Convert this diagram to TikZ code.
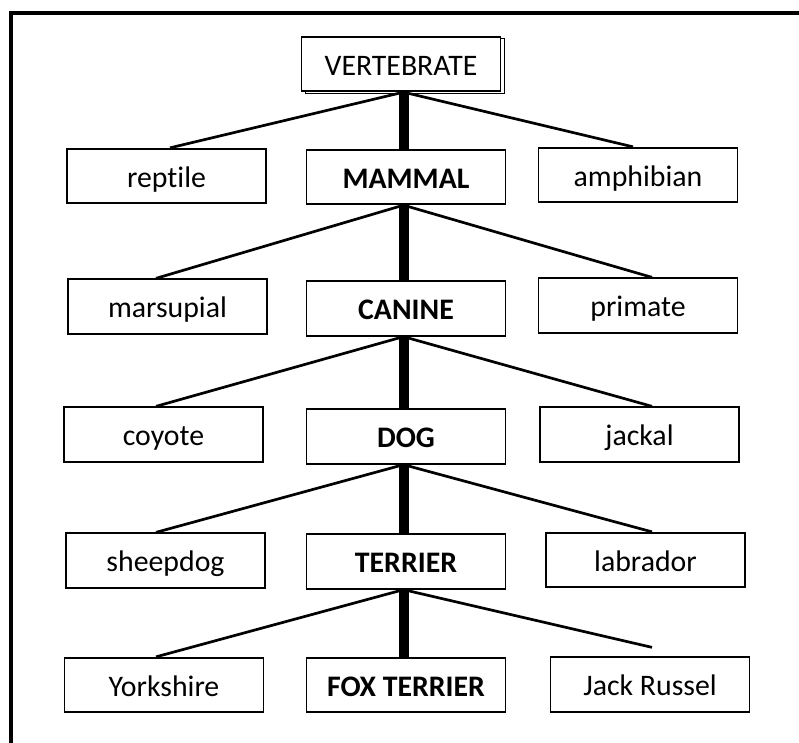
\documentclass[tikz,border=0pt]{standalone}
\usepackage{fontspec}
\setmainfont{Carlito}[Ligatures=NoCommon]
\usetikzlibrary{shadows}
\begin{document}
\begin{tikzpicture}[x=1pt,y=-1pt,
  box/.style={draw, line width=1.8pt, minimum width=199pt, minimum height=54.5pt,
    inner sep=0pt, text height=25pt, text depth=3pt,
    font=\fontsize{29.8}{35}\selectfont},
  key/.style={box, font=\fontsize{29.8}{35}\selectfont\bfseries},
  link/.style={line width=2.7pt},
  spineline/.style={line width=10pt},
  frame/.style={line width=4pt, line join=miter}]
\useasboundingbox (0,0) rectangle (799,742);
% outer frame (only top and left edges are visible)
\draw[frame] (10.5,760) -- (10.5,13) -- (820,13);
% column guides
\coordinate (sp) at (403.5,0);
\coordinate (l1) at (170,0);
\coordinate (l) at (156,0);
\coordinate (r1) at (633,0);
\coordinate (r) at (652,0);
% nodes
\node[box, fill=white, copy shadow={shadow xshift=4pt, shadow yshift=-2pt, line width=1.3pt}] (v) at (401,64) {VERTEBRATE};
\node[box] (rep) at (166.5,176) {reptile};
\node[key] (mam) at (406,177) {MAMMAL};
\node[box] (amp) at (638,175) {amphibian};
\node[box] (mar) at (167.5,306.5) {marsupial};
\node[key] (can) at (406,308.5) {CANINE};
\node[box] (pri) at (638,305.5) {primate};
\node[box] (coy) at (163.5,434.5) {coyote};
\node[key] (dog) at (406,436.5) {DOG};
\node[box] (jac) at (639.5,434.5) {jackal};
\node[box] (she) at (165.5,560.5) {sheepdog};
\node[key] (ter) at (406,561.5) {TERRIER};
\node[box] (lab) at (645.5,560) {labrador};
\node[box] (yor) at (164,685) {Yorkshire};
\node[key] (fox) at (406,685) {FOX TERRIER};
\node[box] (jr) at (650,684.5) {Jack Russel};
% thick spine
\draw[spineline] (v.south -| sp) -- (mam.north -| sp);
\draw[spineline] (mam.south -| sp) -- (can.north -| sp);
\draw[spineline] (can.south -| sp) -- (dog.north -| sp);
\draw[spineline] (dog.south -| sp) -- (ter.north -| sp);
\draw[spineline] (ter.south -| sp) -- (fox.north -| sp);
% thin branches
\draw[link] (v.south -| sp) -- (rep.north -| l1);
\draw[link] (v.south -| sp) -- (amp.north -| r1);
\draw[link] (mam.south -| sp) -- (mar.north -| l);
\draw[link] (mam.south -| sp) -- (pri.north -| r);
\draw[link] (can.south -| sp) -- (coy.north -| l);
\draw[link] (can.south -| sp) -- (jac.north -| r);
\draw[link] (dog.south -| sp) -- (she.north -| l);
\draw[link] (dog.south -| sp) -- (lab.north -| r);
\draw[link] (ter.south -| sp) -- (yor.north -| l);
\draw[link] (ter.south -| sp) -- ([yshift=9pt]jr.north -| r);
\end{tikzpicture}
\end{document}
